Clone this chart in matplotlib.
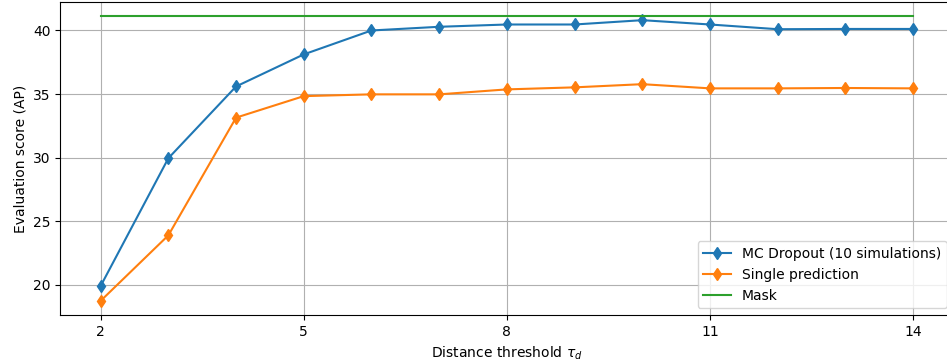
import numpy as np
import matplotlib
matplotlib.use('Agg')
import matplotlib.pyplot as plt

# data
thresholds = [2, 3, 4, 5, 6, 7, 8, 9, 10, 11, 12, 13, 14]
mc_dropout = [19.92, 29.96, 35.6, 38.12, 40.0, 40.29, 40.47, 40.47, 40.81, 40.47, 40.1, 40.12, 40.12]
single_pred = [18.75, 23.9, 33.15, 34.84, 34.98, 34.98, 35.37, 35.53, 35.78, 35.45, 35.45, 35.48, 35.45]
mask_score = 41.12
xticks = [2, 5, 8, 11, 14]

fig = plt.figure(figsize=(9.47, 3.63), dpi=100)
ax = fig.add_axes([0.0634, 0.132, 0.9437, 0.8625])

ax.plot(thresholds, mc_dropout, marker='d', label='MC Dropout (10 simulations)')
ax.plot(thresholds, single_pred, marker='d', label='Single prediction')
ax.plot(thresholds, [mask_score] * len(thresholds), label='Mask')

ax.set_xticks(xticks)
ax.set_xlabel(r'Distance threshold $\tau_d$')
ax.set_ylabel('Evaluation score (AP)')
ax.grid(True)
ax.legend(loc='lower right')

fig.savefig('out.png', dpi=100)
